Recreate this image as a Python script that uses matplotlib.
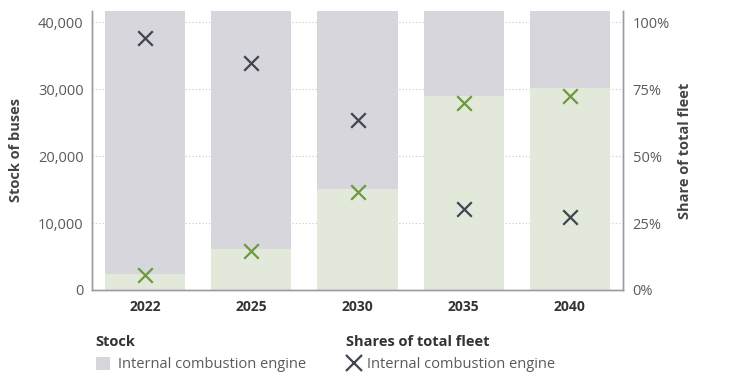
import matplotlib
matplotlib.use('Agg')
import matplotlib.pyplot as plt
from matplotlib.patches import Patch
from matplotlib.lines import Line2D
from matplotlib.ticker import FuncFormatter, PercentFormatter
import numpy as np

plt.rcParams['font.family'] = ['Open Sans', 'DejaVu Sans']

years = ['2022', '2025', '2030', '2035', '2040']
stock_zev = [2400, 6100, 15100, 29050, 30250]
stock_ice = [39300, 35600, 26600, 12650, 11450]
share_ice = [0.94, 0.849, 0.634, 0.302, 0.272]
share_zev = [0.056, 0.146, 0.365, 0.699, 0.724]

grey = '#d6d6dc'
green = '#e2e9da'
dark_x = '#3e4651'
green_x = '#6b9a3c'
txt = '#5a5a5a'

fig = plt.figure(figsize=(7.5, 3.75), dpi=100)
ax = fig.add_axes([0.1227, 0.2267, 0.708, 0.744])
ax2 = ax.twinx()

x = np.arange(len(years))
ax.bar(x, stock_zev, width=0.755, color=green, zorder=2)
ax.bar(x, stock_ice, width=0.755, bottom=stock_zev, color=grey, zorder=2)

ymax = 41700
ax.set_ylim(0, ymax)
ax.set_xlim(-0.5, 4.5)
ax.set_yticks([0, 10000, 20000, 30000, 40000])
ax.yaxis.set_major_formatter(FuncFormatter(lambda v, p: f'{int(v):,}'))
ax.grid(axis='y', color='#c8c8c8', linestyle=(0, (1, 2)), linewidth=0.8, zorder=0)
ax.set_axisbelow(True)
ax.set_xticks(x)
ax.set_xticklabels(years, fontweight='bold', color='#333333', fontsize=10)
ax.tick_params(axis='both', length=0, pad=7)
ax.tick_params(axis='y', labelcolor=txt, labelsize=10.5, pad=6)
ax.set_ylabel('Stock of buses', fontweight='bold', color='#444444', fontsize=10.5, labelpad=11)

ax2.scatter(x, share_ice, marker='x', s=110, color=dark_x, linewidths=1.6, zorder=3)
ax2.scatter(x, share_zev, marker='x', s=110, color=green_x, linewidths=1.6, zorder=3)
ax2.set_ylim(0, ymax / 40000)
ax2.set_yticks([0, 0.25, 0.5, 0.75, 1.0])
ax2.yaxis.set_major_formatter(PercentFormatter(1.0, decimals=0))
ax2.tick_params(axis='y', length=0, pad=7, labelcolor=txt, labelsize=10.5)
ax2.set_ylabel('Share of total fleet', fontweight='bold', color='#444444', fontsize=10.5, labelpad=6)

for a in (ax, ax2):
    a.spines['top'].set_visible(False)
    for s in ('left', 'right', 'bottom'):
        a.spines[s].set_color('#9a9ea4')
        a.spines[s].set_linewidth(1.0)

h1 = [Patch(facecolor=grey, edgecolor='none')]
h2 = [Line2D([], [], marker='x', linestyle='none', color=dark_x, markersize=11, markeredgewidth=1.6)]
leg1 = fig.legend(h1, ['Internal combustion engine'], title='Stock', loc='upper left',
                  bbox_to_anchor=(0.118, 0.125), frameon=False, alignment='left',
                  fontsize=10.5, handlelength=1.0, handleheight=1.0, handletextpad=0.5,
                  borderpad=0, labelcolor=txt,
                  title_fontproperties={'weight': 'bold', 'size': 10.5})
leg1.get_title().set_color('#333333')
leg2 = fig.legend(h2, ['Internal combustion engine'], title='Shares of total fleet', loc='upper left',
                  bbox_to_anchor=(0.452, 0.125), frameon=False, alignment='left',
                  fontsize=10.5, handlelength=1.0, handletextpad=0.4,
                  borderpad=0, labelcolor=txt,
                  title_fontproperties={'weight': 'bold', 'size': 10.5})
leg2.get_title().set_color('#333333')

fig.savefig('out.png', dpi=100)
